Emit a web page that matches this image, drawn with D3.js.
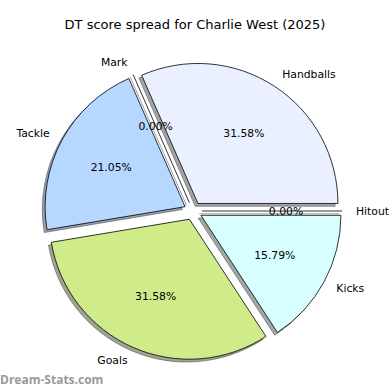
<!DOCTYPE html>
<html>
<head>
<meta charset="utf-8">
<script src="https://cdn.jsdelivr.net/npm/d3@7"></script>
<style>
  body { margin: 0; background: #fff; }
  text { font-family: "DejaVu Sans", sans-serif; }
</style>
</head>
<body>
<svg width="390" height="390"></svg>
<script>
const categories = ["Handballs", "Mark", "Tackle", "Goals", "Kicks", "Hitout"]
const values = [6, 0, 4, 6, 3, 0]
const colours = ["#eaf0ff", "#b6d7ff", "#b6d7ff", "#d0eb8a", "#d8ffff", "#d8ffff"]

const svg = d3.select("svg"),
      cx = 193, cy = 211,
      r = 140,
      explode = 9,
      shadowOff = 2.8

const total = d3.sum(values)

// matplotlib style: start at 3 o'clock and go counter-clockwise
const pie = d3.pie().sort(null).value(d => d.value)
  .startAngle(Math.PI / 2).endAngle(Math.PI / 2 - 2 * Math.PI)

const arcs = pie(categories.map((c, i) => ({name: c, value: values[i], colour: colours[i]})))

const arc = d3.arc().innerRadius(0).outerRadius(r)

// mid angle in d3 coords (0 = up, clockwise)
const mid = d => (d.startAngle + d.endAngle) / 2
const dir = d => [Math.sin(mid(d)), -Math.cos(mid(d))]
const shift = d => "translate(" + dir(d)[0] * explode + "," + dir(d)[1] * explode + ")"

const g = svg.append("g").attr("transform", "translate(" + cx + "," + cy + ")")

function darker(c) {
  const rgb = d3.rgb(c)
  return d3.rgb(rgb.r * 0.3, rgb.g * 0.3, rgb.b * 0.3)
}

function wedgePath(d) {
  if (Math.abs(d.endAngle - d.startAngle) < 1e-9) {
    const a = d.startAngle
    return "M0,0L" + (r * Math.sin(a)) + "," + (-r * Math.cos(a))
  }
  return arc(d)
}

const wedges = g.selectAll(".wedge")
  .data(arcs)
  .enter().append("g")
    .attr("class", "wedge")
    .attr("transform", shift)

// shadow
wedges.append("path")
  .attr("d", wedgePath)
  .attr("transform", "translate(" + (-shadowOff) + "," + shadowOff + ")")
  .style("fill", d => darker(d.data.colour))
  .style("fill-opacity", 0.5)
  .style("stroke", d => darker(d.data.colour))
  .style("stroke-opacity", 0.5)
  .style("stroke-width", 1)

wedges.append("path")
  .attr("d", wedgePath)
  .style("fill", d => d.data.colour)
  .style("stroke", "#000")
  .style("stroke-width", 0.8)
  .style("stroke-linejoin", "round")

// texts on top of all wedges
const labels = g.selectAll(".labels")
  .data(arcs)
  .enter().append("g")
    .attr("class", "labels")
    .attr("transform", shift)

labels.append("text")
  .attr("x", d => dir(d)[0] * r * 1.1)
  .attr("y", d => dir(d)[1] * r * 1.1)
  .attr("dy", "0.35em")
  .attr("text-anchor", d => dir(d)[0] < 0 ? "end" : "start")
  .style("font-size", "10.8px")
  .style("fill", "#000")
  .text(d => d.data.name)

labels.append("text")
  .attr("x", d => dir(d)[0] * r * 0.6)
  .attr("y", d => dir(d)[1] * r * 0.6)
  .attr("dy", "0.35em")
  .attr("text-anchor", "middle")
  .style("font-size", "10.8px")
  .style("fill", "#000")
  .text(d => d3.format(".2f")(d.data.value / total * 100) + "%")

svg.append("text")
  .attr("x", 195)
  .attr("y", 29)
  .attr("text-anchor", "middle")
  .style("font-size", "13px")
  .style("fill", "#000")
  .text("DT score spread for Charlie West (2025)")

svg.append("text")
  .attr("x", 0)
  .attr("y", 384)
  .style("font-size", "12px")
  .style("font-weight", "bold")
  .style("fill", "#999")
  .style("font-family", "'Open Sans', sans-serif")
  .text("Dream-Stats.com")
</script>
</body>
</html>
